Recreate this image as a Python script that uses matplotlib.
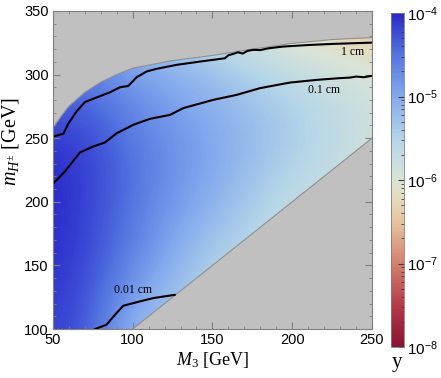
import numpy as np
import matplotlib.pyplot as plt
from matplotlib.colors import LinearSegmentedColormap, LogNorm, Normalize
from matplotlib.cm import ScalarMappable
from matplotlib.patches import Polygon
from matplotlib.ticker import MultipleLocator, FixedLocator

plt.rcParams['mathtext.fontset'] = 'custom'
plt.rcParams['mathtext.rm'] = 'Liberation Serif'
plt.rcParams['mathtext.it'] = 'Liberation Serif:italic'
plt.rcParams['mathtext.sf'] = 'Liberation Sans'

# log10(y) on a coarse grid (rows: m_H, columns: M3)
grid_m3 = [50, 75, 100, 125, 150, 175, 200, 225, 250]
grid_mh = [100, 150, 200, 250, 300, 350]
log_y = [
    [-4.15, -4.40, -5.20, -5.40, -5.60, -5.75, -5.90, -5.95, -6.00],
    [-4.05, -4.25, -4.65, -5.10, -5.50, -5.65, -5.80, -5.90, -6.00],
    [-4.00, -4.20, -4.50, -4.80, -5.05, -5.40, -5.70, -5.80, -5.90],
    [-4.05, -4.20, -4.50, -4.75, -4.95, -5.15, -5.35, -5.60, -5.85],
    [-4.60, -4.60, -4.90, -5.05, -5.20, -5.40, -5.60, -5.75, -5.90],
    [-5.00, -5.00, -5.30, -5.70, -6.00, -6.30, -6.50, -6.60, -6.70],
]

# upper edge of the allowed region
edge_m3 = [50, 55, 60, 70, 75, 80, 90, 100, 125, 150, 175, 200, 225, 250]
edge_mh = [258, 267, 275, 286, 290, 294, 300, 305, 311, 315, 320, 324.5, 327.5, 329]

# decay length contours
c1_m3 = [50, 56.5, 59.6, 64.8, 70, 77.4, 85.7, 92, 97.2, 102.5, 108.7, 115, 127.5,
         142.2, 157.8, 160, 163, 166, 169, 172, 175.6, 180, 185, 194.4, 210, 225.8, 250]
c1_mh = [251.3, 253.4, 261.3, 271, 278.3, 282, 286, 290, 291, 297.9, 302.4, 304.5, 307.6,
         310.2, 312.8, 315.2, 316.2, 317.5, 316.5, 318.6, 319.4, 319.2, 320.6, 322, 323.2, 324.1, 325.1]
c01_m3 = [50, 57.5, 66.9, 75.3, 82.6, 90, 100.4, 110.8, 123.4, 131.7, 150.5, 165.1,
          179.8, 198.6, 215.3, 230, 236.2, 240, 245, 250]
c01_mh = [214.1, 223.8, 238.7, 243.5, 246.6, 253.9, 260.5, 265.2, 268.3, 273.6, 280.1, 284,
          289.3, 293.7, 295.8, 297.2, 297.6, 298.4, 297.9, 299]
c001_m3 = [75.9, 83.6, 88.9, 94.1, 104.5, 112.9, 126.5]
c001_mh = [99.7, 103.4, 111.2, 118.3, 121.7, 124.3, 126.9]

cmap = LinearSegmentedColormap.from_list('temp', [
    (0.00, '#8a1232'), (0.12, '#b63848'), (0.25, '#d4806f'), (0.375, '#e6c4a2'),
    (0.45, '#e4dcc0'), (0.50, '#d9e4d8'), (0.62, '#b5d6e8'), (0.75, '#84aaee'),
    (0.88, '#5272e0'), (1.00, '#2a28cc')])

fig = plt.figure(figsize=(4.41, 3.78), dpi=100)
ax = fig.add_axes([0.120, 0.1296, 0.7235, 0.8415])
ax.set_facecolor('#c0c0c0')

dx = (grid_m3[1] - grid_m3[0]) / 2
dy = (grid_mh[1] - grid_mh[0]) / 2
img = ax.imshow(np.array(log_y), origin='lower', aspect='auto', interpolation='bicubic',
                extent=[grid_m3[0] - dx, grid_m3[-1] + dx, grid_mh[0] - dy, grid_mh[-1] + dy],
                cmap=cmap, norm=Normalize(-8, -4))

region = [(50, 100), (100, 100), (250, 250)] + list(zip(edge_m3[::-1], edge_mh[::-1]))
clip = Polygon(region, closed=True, transform=ax.transData, facecolor='none', edgecolor='none')
ax.add_patch(clip)
img.set_clip_path(clip)

ax.plot(edge_m3, edge_mh, color='#909090', lw=0.8)
ax.plot([100, 250], [100, 250], color='#909090', lw=0.8)

for xs, ys in [(c1_m3, c1_mh), (c01_m3, c01_mh), (c001_m3, c001_mh)]:
    ax.plot(xs, ys, color='black', lw=1.5, solid_capstyle='round')

lab = dict(family='Liberation Serif', fontsize=8.5, ha='center', va='center')
ax.text(238, 318, '1 cm', **lab)
ax.text(220, 288, '0.1 cm', **lab)
ax.text(100, 131, '0.01 cm', **lab)

ax.set_xlim(50, 250)
ax.set_ylim(100, 350)
ax.xaxis.set_major_locator(MultipleLocator(50))
ax.xaxis.set_minor_locator(MultipleLocator(10))
ax.yaxis.set_major_locator(MultipleLocator(50))
ax.yaxis.set_minor_locator(MultipleLocator(10))
ax.tick_params(which='both', direction='in', top=True, right=True, color='#808080',
               labelsize=10.5, pad=3)
ax.tick_params(which='major', length=5)
ax.tick_params(which='minor', length=2.5)
for t in ax.get_xticklabels() + ax.get_yticklabels():
    t.set_family('Liberation Sans')
for s in ax.spines.values():
    s.set_color('#808080')

ax.set_xlabel(r'$M_3$ [GeV]', family='Liberation Serif', fontsize=13, labelpad=2)
ax.set_ylabel(r'$m_{H^{\pm}}$ [GeV]', family='Liberation Serif', fontsize=14.5)
ax.yaxis.set_label_coords(-0.10, 0.59)

cax = fig.add_axes([0.8866, 0.082, 0.0295, 0.8836])
sm = ScalarMappable(norm=LogNorm(1e-8, 1e-4), cmap=cmap)
cb = fig.colorbar(sm, cax=cax)
cb.outline.set_edgecolor('#808080')
cb.outline.set_linewidth(0.6)
exps = [-8, -7, -6, -5, -4]
cb.set_ticks([10.0 ** e for e in exps])
cb.set_ticklabels([r'$\mathsf{10^{%d}}$' % e for e in exps])
cax.yaxis.set_minor_locator(FixedLocator(
    [k * 10.0 ** e for e in exps[:-1] for k in range(2, 10)]))
cax.tick_params(which='both', direction='in', color='#404040', labelsize=11, pad=2)
cax.tick_params(which='major', length=4)
cax.tick_params(which='minor', length=2)
fig.text(0.9, 0.04, 'y', family='Liberation Serif', fontsize=15, ha='center', va='center')

fig.savefig('out.png', dpi=100)
